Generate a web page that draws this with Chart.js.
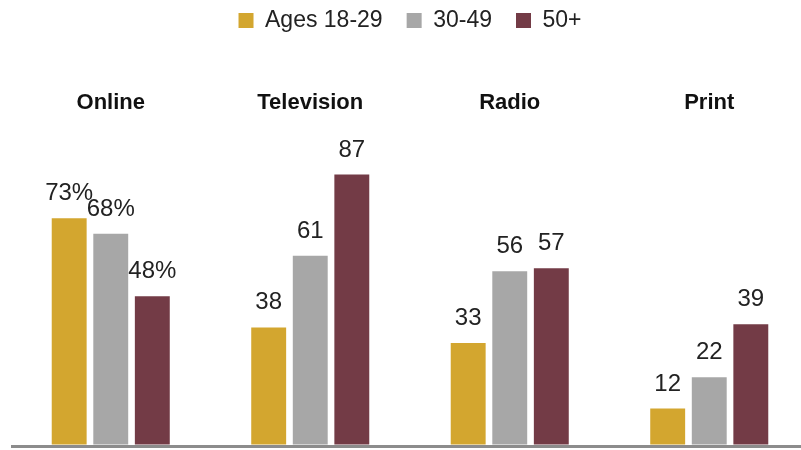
<!DOCTYPE html>
<html>
<head>
<meta charset="utf-8">
<script src="https://cdn.jsdelivr.net/npm/chart.js@4/dist/chart.umd.min.js"></script>
<style>
  html, body { margin: 0; padding: 0; background: #fff; overflow: hidden; }
  #wrap { width: 809px; height: 450px; }
</style>
</head>
<body>
<div id="wrap"><canvas id="myChart"></canvas></div>
<script>
const categories = ["Online", "Television", "Radio", "Print"];
const seriesNames = ["Ages 18-29", "30-49", "50+"];
const ages18to29 = [73, 38, 33, 12];
const ages30to49 = [68, 61, 56, 22];
const ages50plus = [48, 87, 57, 39];
const valueSuffix = ["%", "", "", ""];
const colors = ["#D3A62F", "#A7A7A7", "#733B46"];

const FONT = "'Liberation Sans', Arial, sans-serif";

// draws the value above every bar
const valueLabels = {
  id: "valueLabels",
  afterDatasetsDraw(chart) {
    const ctx = chart.ctx;
    ctx.save();
    ctx.font = "24px " + FONT;
    ctx.fillStyle = "#222";
    ctx.textAlign = "center";
    ctx.textBaseline = "alphabetic";
    chart.data.datasets.forEach((ds, i) => {
      chart.getDatasetMeta(i).data.forEach((bar, j) => {
        ctx.fillText(ds.data[j] + valueSuffix[j], bar.x, bar.y - 18);
      });
    });
    ctx.restore();
  },
};

const ctx = document.getElementById("myChart");
new Chart(ctx, {
  type: "bar",
  data: {
    labels: categories,
    datasets: [
      { label: seriesNames[0], data: ages18to29, backgroundColor: colors[0] },
      { label: seriesNames[1], data: ages30to49, backgroundColor: colors[1] },
      { label: seriesNames[2], data: ages50plus, backgroundColor: colors[2] },
    ],
  },
  options: {
    responsive: true,
    maintainAspectRatio: false,
    animation: false,
    datasets: {
      bar: { barPercentage: 0.84, categoryPercentage: 0.625 },
    },
    layout: { padding: { left: 11, right: 0, top: -15, bottom: 4 } },
    plugins: {
      tooltip: { enabled: false },
      legend: {
        position: "top",
        labels: {
          boxWidth: 15,
          boxHeight: 15,
          padding: 24,
          color: "#222",
          font: { family: FONT, size: 23 },
        },
      },
    },
    scales: {
      x: {
        position: "top",
        grid: { display: false, drawTicks: false },
        border: { display: false },
        ticks: {
          color: "#111",
          padding: 18,
          font: { family: FONT, size: 22, weight: "bold" },
        },
        afterFit: (scale) => { scale.height = 92; },
      },
      y: {
        min: 0,
        max: 100,
        ticks: { display: false },
        border: { display: false },
        grid: {
          drawTicks: false,
          lineWidth: 3,
          color: (c) => (c.tick && c.tick.value === 0 ? "#8C8C8C" : "rgba(0,0,0,0)"),
        },
      },
    },
  },
  plugins: [valueLabels],
});
</script>
</body>
</html>
